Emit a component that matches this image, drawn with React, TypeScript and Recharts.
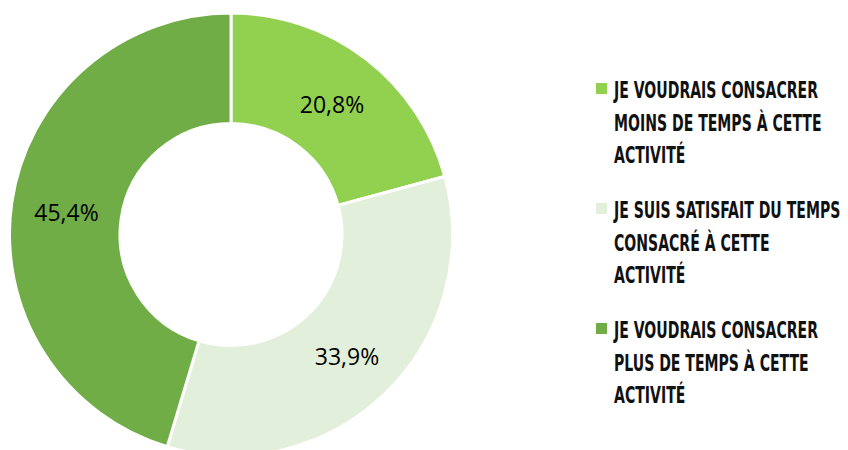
import React from 'react';
import { PieChart, Pie, Cell, Legend } from 'recharts';

const categories = [
  'JE VOUDRAIS CONSACRER MOINS DE TEMPS À CETTE ACTIVITÉ',
  'JE SUIS SATISFAIT DU TEMPS CONSACRÉ À CETTE ACTIVITÉ',
  'JE VOUDRAIS CONSACRER PLUS DE TEMPS À CETTE ACTIVITÉ',
];
const values = [20.8, 33.9, 45.4];
const valueLabels = ['20,8%', '33,9%', '45,4%'];
const legendLines = [
  ['JE VOUDRAIS CONSACRER', 'MOINS DE TEMPS À CETTE', 'ACTIVITÉ'],
  ['JE SUIS SATISFAIT DU TEMPS', 'CONSACRÉ À CETTE', 'ACTIVITÉ'],
  ['JE VOUDRAIS CONSACRER', 'PLUS DE TEMPS À CETTE', 'ACTIVITÉ'],
];
const colors = ['#92D050', '#E2EFDA', '#70AD47'];

const data = categories.map((name, i) => ({ name, value: values[i], label: valueLabels[i] }));

const RADIAN = Math.PI / 180;

const renderLabel = (props: any) => {
  const { cx, cy, midAngle, innerRadius, outerRadius, index } = props;
  const r = (innerRadius + outerRadius) / 2;
  const x = cx + r * Math.cos(-midAngle * RADIAN);
  const y = cy + r * Math.sin(-midAngle * RADIAN);
  return (
    <text
      x={x}
      y={y + 2}
      fill="#000"
      textAnchor="middle"
      dominantBaseline="central"
      fontFamily="'Open Sans', sans-serif"
      fontSize={23}
    >
      {data[index].label}
    </text>
  );
};

const LegendContent = (props: any) => {
  const payload = props.payload || [];
  return (
    <svg width={253} height={370} style={{ display: 'block', overflow: 'visible' }}>
      {payload.map((entry: any, i: number) => (
        <g key={i}>
          <rect x={1} y={13 + i * 120} width={11} height={11} fill={colors[i]} />
          {legendLines[i].map((line, j) => (
            <g key={j} transform={`translate(19, ${28 + i * 120 + j * 32.5}) scale(0.68, 1)`}>
              <text
                x={0}
                y={0}
                fill="#111"
                fontFamily="'DejaVu Sans Condensed', 'DejaVu Sans', sans-serif"
                fontWeight="bold"
                fontSize={23}
              >
                {line}
              </text>
            </g>
          ))}
        </g>
      ))}
    </svg>
  );
};

export default function App() {
  return (
    <div style={{ position: 'absolute', left: 0, top: 0, background: '#fff' }}>
      <PieChart width={848} height={450}>
        <Pie
          data={data}
          dataKey="value"
          nameKey="name"
          cx={226}
          cy={229.5}
          innerRadius={111}
          outerRadius={221.5}
          startAngle={90}
          endAngle={-270}
          stroke="#fff"
          strokeWidth={3}
          label={renderLabel}
          labelLine={false}
          isAnimationActive={false}
        >
          {data.map((d, i) => (
            <Cell key={i} fill={colors[i]} />
          ))}
        </Pie>
        <Legend
          content={LegendContent}
          wrapperStyle={{ position: 'absolute', left: 595, top: 70, width: 253, height: 370 }}
        />
      </PieChart>
    </div>
  );
}
